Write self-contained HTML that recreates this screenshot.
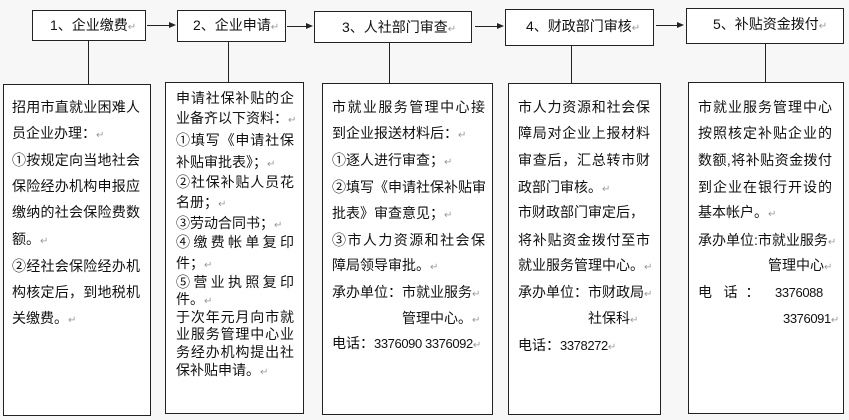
<!DOCTYPE html>
<html><head><meta charset="utf-8"><style>
body{margin:0;width:849px;height:420px;background:#f7f7f7;position:relative;overflow:hidden;font-family:"Liberation Sans","Noto Sans CJK SC",sans-serif;color:#111;}
.b{position:absolute;background:#fff;border:1px solid #222;box-sizing:border-box;}
.t{position:absolute;font-size:14px;line-height:18px;white-space:nowrap;}
.j{text-align:justify;text-align-last:justify;}
.r{color:#999;font-size:10px;}
.n{font-size:13px;letter-spacing:-0.4px;}
.v{position:absolute;width:1px;background:#222;}
.h{position:absolute;height:1px;background:#222;}
.a{position:absolute;width:0;height:0;border-left:7px solid #222;border-top:3.5px solid transparent;border-bottom:3.5px solid transparent;}
</style></head><body>
<div class="b" style="left:32px;top:10px;width:114px;height:31px"></div>
<div class="t" style="left:50px;top:16px">1、企业缴费<span class="r">↵</span></div>
<div class="b" style="left:177px;top:10px;width:109px;height:32px"></div>
<div class="t" style="left:193px;top:16px">2、企业申请<span class="r">↵</span></div>
<div class="b" style="left:314px;top:11px;width:158px;height:32px"></div>
<div class="t" style="left:342px;top:18px">3、人社部门审查<span class="r">↵</span></div>
<div class="b" style="left:505px;top:9px;width:149px;height:37px"></div>
<div class="t" style="left:526px;top:17px">4、财政部门审核<span class="r">↵</span></div>
<div class="b" style="left:686px;top:8px;width:158px;height:36px"></div>
<div class="t" style="left:713px;top:15px">5、补贴资金拨付<span class="r">↵</span></div>
<div class="h" style="left:147px;top:25px;width:22px"></div><div class="a" style="left:169px;top:22px"></div>
<div class="h" style="left:287px;top:26px;width:19px"></div><div class="a" style="left:306px;top:23px"></div>
<div class="h" style="left:475px;top:26px;width:22px"></div><div class="a" style="left:497px;top:23px"></div>
<div class="h" style="left:656px;top:25px;width:21px"></div><div class="a" style="left:677px;top:22px"></div>
<div class="v" style="left:88px;top:41px;height:43px"></div>
<div class="v" style="left:228px;top:42px;height:40px"></div>
<div class="v" style="left:389px;top:43px;height:40px"></div>
<div class="v" style="left:571px;top:46px;height:37px"></div>
<div class="v" style="left:765px;top:44px;height:38px"></div>
<div class="b" style="left:3px;top:84px;width:148px;height:332px"></div>
<div class="b" style="left:165px;top:82px;width:139px;height:332px"></div>
<div class="b" style="left:322px;top:83px;width:171px;height:332px"></div>
<div class="b" style="left:508px;top:83px;width:153px;height:332px"></div>
<div class="b" style="left:688px;top:82px;width:156px;height:332px"></div>
<div class="t j" style="left:12px;top:98px;width:128px">招用市直就业困难人</div>
<div class="t" style="left:12px;top:124px">员企业办理：<span class="r">↵</span></div>
<div class="t j" style="left:12px;top:151px;width:128px">①按规定向当地社会</div>
<div class="t j" style="left:12px;top:177px;width:128px">保险经办机构申报应</div>
<div class="t j" style="left:12px;top:203px;width:128px">缴纳的社会保险费数</div>
<div class="t" style="left:12px;top:230px">额。<span class="r">↵</span></div>
<div class="t j" style="left:12px;top:257px;width:128px">②经社会保险经办机</div>
<div class="t j" style="left:12px;top:283px;width:128px">构核定后，到地税机</div>
<div class="t" style="left:12px;top:309px">关缴费。<span class="r">↵</span></div>
<div class="t j" style="left:176px;top:89px;width:118px">申请社保补贴的企</div>
<div class="t" style="left:176px;top:109px">业备齐以下资料：<span class="r">↵</span></div>
<div class="t j" style="left:176px;top:131px;width:118px">①填写《申请社保</div>
<div class="t" style="left:176px;top:153px">补贴审批表》；<span class="r">↵</span></div>
<div class="t j" style="left:176px;top:173px;width:118px">②社保补贴人员花</div>
<div class="t" style="left:176px;top:193px">名册；<span class="r">↵</span></div>
<div class="t" style="left:176px;top:214px">③劳动合同书；<span class="r">↵</span></div>
<div class="t j" style="left:176px;top:233px;width:118px">④缴费帐单复印</div>
<div class="t" style="left:176px;top:254px">件；<span class="r">↵</span></div>
<div class="t j" style="left:176px;top:273px;width:118px">⑤营业执照复印</div>
<div class="t" style="left:176px;top:290px">件。<span class="r">↵</span></div>
<div class="t j" style="left:176px;top:308px;width:118px">于次年元月向市就</div>
<div class="t j" style="left:176px;top:325px;width:118px">业服务管理中心业</div>
<div class="t j" style="left:176px;top:343px;width:118px">务经办机构提出社</div>
<div class="t" style="left:176px;top:361px">保补贴申请。<span class="r">↵</span></div>
<div class="t j" style="left:332px;top:98px;width:153px">市就业服务管理中心接</div>
<div class="t" style="left:332px;top:124px">到企业报送材料后：<span class="r">↵</span></div>
<div class="t" style="left:332px;top:151px">①逐人进行审查；<span class="r">↵</span></div>
<div class="t j" style="left:332px;top:178px;width:153px">②填写《申请社保补贴审</div>
<div class="t" style="left:332px;top:204px">批表》审查意见；<span class="r">↵</span></div>
<div class="t j" style="left:332px;top:231px;width:153px">③市人力资源和社会保</div>
<div class="t" style="left:332px;top:256px">障局领导审批。<span class="r">↵</span></div>
<div class="t" style="left:332px;top:283px">承办单位：市就业服务<span class="r">↵</span></div>
<div class="t" style="left:402px;top:309px">管理中心。<span class="r">↵</span></div>
<div class="t" style="left:332px;top:334px">电话：<span class="n">3376090 3376092</span><span class="r">↵</span></div>
<div class="t j" style="left:518px;top:98px;width:132px">市人力资源和社会保</div>
<div class="t j" style="left:518px;top:124px;width:132px">障局对企业上报材料</div>
<div class="t j" style="left:518px;top:151px;width:132px">审查后，汇总转市财</div>
<div class="t" style="left:518px;top:178px">政部门审核。<span class="r">↵</span></div>
<div class="t" style="left:518px;top:203px">市财政部门审定后，</div>
<div class="t j" style="left:518px;top:231px;width:132px">将补贴资金拨付至市</div>
<div class="t" style="left:518px;top:256px">就业服务管理中心。<span class="r">↵</span></div>
<div class="t" style="left:518px;top:283px">承办单位：市财政局<span class="r">↵</span></div>
<div class="t" style="left:588px;top:309px">社保科<span class="r">↵</span></div>
<div class="t" style="left:518px;top:336px">电话：<span class="n">3378272</span><span class="r">↵</span></div>
<div class="t j" style="left:698px;top:98px;width:134px">市就业服务管理中心</div>
<div class="t j" style="left:698px;top:124px;width:134px">按照核定补贴企业的</div>
<div class="t j" style="left:698px;top:151px;width:134px">数额,将补贴资金拨付</div>
<div class="t j" style="left:698px;top:178px;width:134px">到企业在银行开设的</div>
<div class="t" style="left:698px;top:203px">基本帐户。<span class="r">↵</span></div>
<div class="t" style="left:698px;top:231px">承办单位:市就业服务<span class="r">↵</span></div>
<div class="t" style="left:768px;top:256px">管理中心<span class="r">↵</span></div>
<div class="t" style="left:698px;top:283px">电&nbsp;&nbsp;&nbsp;话&nbsp;&nbsp;：&nbsp;&nbsp;&nbsp;&nbsp;<span class="n">3376088</span></div>
<div class="t" style="left:783px;top:309px"><span class="n">3376091</span><span class="r">↵</span></div>
</body></html>
